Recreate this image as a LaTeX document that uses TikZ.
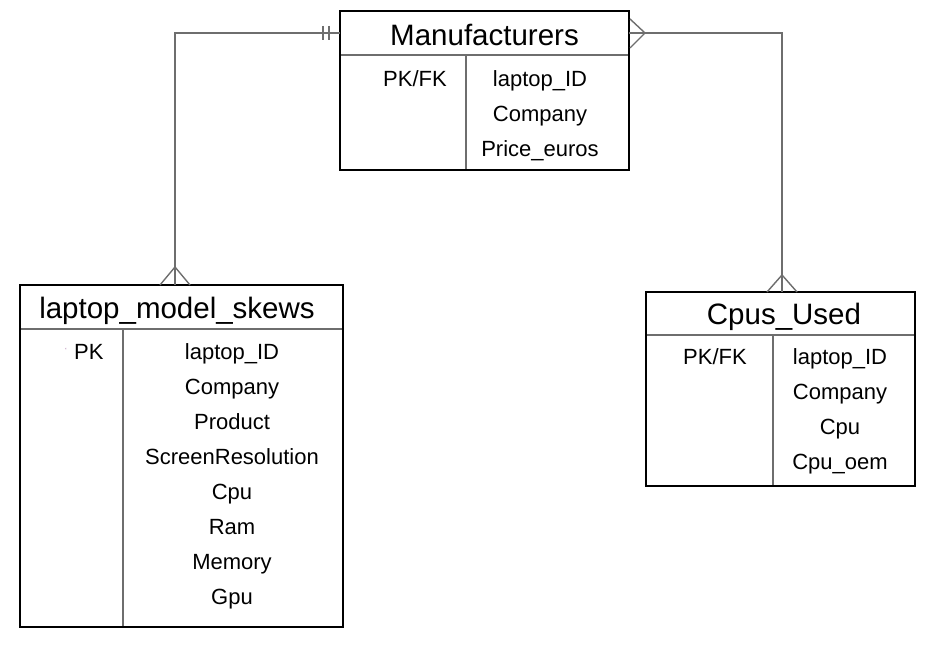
\documentclass[tikz,border=0pt]{standalone}
\usepackage{fontspec}
\setmainfont{Liberation Sans}
\definecolor{lgray}{RGB}{110,110,110}
\definecolor{dotc}{RGB}{120,40,120}
\tikzset{
  tbl/.style={draw=black, line width=2.8pt, fill=none, inner sep=0pt, outer sep=0pt, rectangle},
  inner/.style={draw=lgray, line width=1.3pt},
  conn/.style={draw=lgray, line width=1.4pt},
  hdr/.style={inner sep=0pt, text height=21pt, text depth=0pt, font=\fontsize{29.5}{31}\selectfont},
  fld/.style={inner sep=0pt, text height=15.8pt, text depth=0pt, font=\fontsize{22}{24}\selectfont},
}
\begin{document}
\begin{tikzpicture}[x=1pt,y=-1pt]
\useasboundingbox[fill=white] (0,0) rectangle (933,647);

% ---------- Manufacturers ----------
\draw[inner] (340,55) -- (629,55);
\draw[inner] (466,55) -- (466,170);
\node[hdr] (manH) at (484.5,35) {Manufacturers};
\node[fld] (manK) at (415,79) {PK/FK};
\node[fld] (man1) at (540,79) {laptop\_ID};
\node[fld] (man2) at (540,114) {Company};
\node[fld] (man3) at (540,149) {Price\_euros};
\node[tbl, minimum width=289pt, minimum height=159pt] (man) at (484.5,90.5) {};

% ---------- laptop_model_skews ----------
\draw[inner] (20,329) -- (343,329);
\draw[inner] (123,329) -- (123,627);
\node[hdr] (lmsH) at (177,308) {laptop\_model\_skews};
\node[fld, anchor=west] (lmsK) at (74,352) {PK};
\node[font=\fontsize{6}{6}\selectfont, text=dotc, inner sep=0pt] (lmsDot) at (66,350) {`};
\node[fld] (lms1) at (232,352) {laptop\_ID};
\node[fld] (lms2) at (232,387) {Company};
\node[fld] (lms3) at (232,422) {Product};
\node[fld] (lms4) at (232,457) {ScreenResolution};
\node[fld] (lms5) at (232,492) {Cpu};
\node[fld] (lms6) at (232,527) {Ram};
\node[fld] (lms7) at (232,562) {Memory};
\node[fld] (lms8) at (232,597) {Gpu};
\node[tbl, minimum width=323pt, minimum height=342pt] (lms) at (181.5,456) {};

% ---------- Cpus_Used ----------
\draw[inner] (646,335) -- (915,335);
\draw[inner] (773,335) -- (773,486);
\node[hdr] (cpuH) at (784,314) {Cpus\_Used};
\node[fld] (cpuK) at (715,357) {PK/FK};
\node[fld] (cpu1) at (840,357) {laptop\_ID};
\node[fld] (cpu2) at (840,392) {Company};
\node[fld] (cpu3) at (840,427) {Cpu};
\node[fld] (cpu4) at (840,462) {Cpu\_oem};
\node[tbl, minimum width=269pt, minimum height=194pt] (cpu) at (780.5,389) {};

% ---------- connectors ----------
\coordinate (mL) at (man.west |- 0,33);
\coordinate (mR) at (man.east |- 0,33);
\coordinate (lmsTop) at (lms.north -| 175,0);
\coordinate (cpuTop) at (cpu.north -| 782,0);

\draw[conn] (mL) -| (lmsTop);
\draw[conn] (323,26) -- (323,40);
\draw[conn] (329,26) -- (329,40);
\draw[conn] (160,285) -- (175,267) -- (190,285);

\draw[conn] (mR) -| (cpuTop);
\draw[conn] (630,19) -- (645,33) -- (630,48);
\draw[conn] (767,292) -- (782,275) -- (797,292);
\end{tikzpicture}
\end{document}
